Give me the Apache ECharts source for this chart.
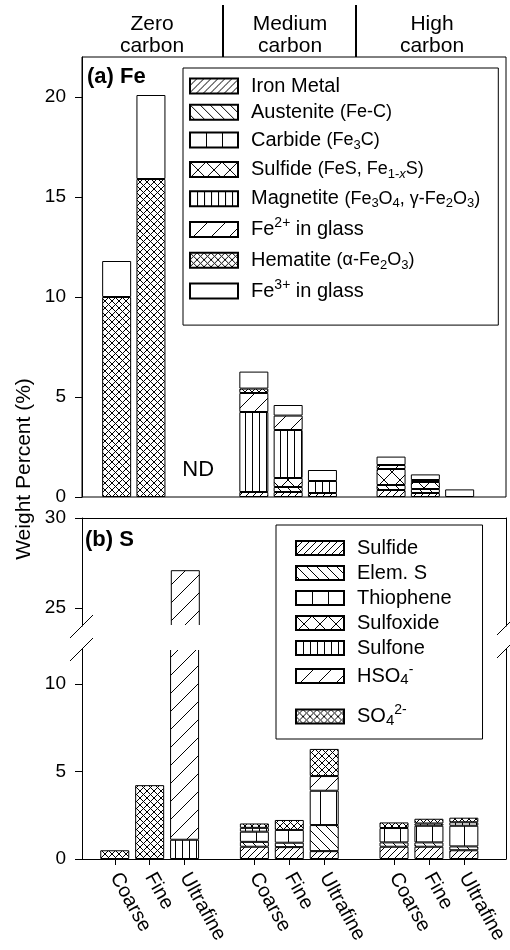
<!DOCTYPE html>
<html><head><meta charset="utf-8">
<script src="https://cdn.jsdelivr.net/npm/echarts@6/dist/echarts.min.js"></script>
<style>html,body{margin:0;padding:0;background:#fff}#c{width:510px;height:950px}</style>
</head><body><div id="c"></div>
<script>
// ---------- DATA ----------
const groups = ['Zero carbon', 'Medium carbon', 'High carbon'];
const sizes = ['Coarse', 'Fine', 'Ultrafine'];
// order of each array: Zero C,F,U | Medium C,F,U | High C,F,U   (null = ND)
// (a) Fe, weight percent
const feIronMetal = [0, 0, null, 0.25, 0.25, 0.20, 0.35, 0.20, 0];
const feAustenite = [0, 0, null, 0, 0.25, 0, 0.25, 0.20, 0];
const feCarbide   = [0, 0, null, 0, 0, 0, 0, 0, 0];
const feSulfide   = [0, 0, null, 0, 0.45, 0, 0.80, 0.35, 0];
const feMagnetite = [0, 0, null, 4.00, 2.40, 0.60, 0, 0, 0];
const feFe2Glass  = [0, 0, null, 0.95, 0.72, 0, 0.20, 0.10, 0];
const feHematite  = [10.0, 15.9, null, 0.22, 0, 0, 0, 0, 0];
const feFe3Glass  = [1.8, 4.2, null, 0.85, 0.53, 0.55, 0.42, 0.28, 0.38];
// (b) S, weight percent
const sSulfide   = [0, 0, 0, 0.70, 0.68, 0.45, 0.70, 0.70, 0.50];
const sElemS     = [0, 0, 0, 0.28, 0.25, 1.49, 0.25, 0.25, 0.22];
const sThiophene = [0, 0, 0, 0.58, 0.73, 1.96, 0.82, 0.95, 1.18];
const sSulfoxide = [0, 0, 0, 0, 0, 0, 0, 0, 0];
const sSulfone   = [0, 0, 1.10, 0.22, 0, 0, 0, 0.13, 0.20];
const sHSO4      = [0, 0, 26.0, 0, 0, 0.84, 0, 0, 0];
const sSO4       = [0.50, 4.22, 0, 0.25, 0.57, 1.55, 0.32, 0.27, 0.26];
// tick labels
const feTicks = [0, 5, 10, 15, 20];
const sTicksUpper = [25, 30];
const sTicksLower = [0, 5, 10];

// ---------- STYLE / LAYOUT ----------
const FONT = '"Liberation Sans", Arial, Helvetica, sans-serif';
const L = 82, W = 424;
const gA = {top: 57, height: 440}, gBU = {top: 518, height: 108}, gBL = {top: 649, height: 210};
const dA = {left: 99.5, width: 377.3}, dB = {left: 97.3, width: 387.2};
const BW = 29;

function pat(kind, s) {
  const c = document.createElement('canvas'); c.width = s; c.height = s;
  const g = c.getContext('2d');
  g.fillStyle = '#fff'; g.fillRect(0, 0, s, s);
  g.strokeStyle = '#000'; g.lineWidth = 1; g.beginPath();
  if (kind === 'fwd' || kind === 'x') for (const k of [0, s, 2 * s]) { g.moveTo(k + 1, -1); g.lineTo(-1, k + 1); }
  if (kind === 'back' || kind === 'x') for (const k of [-s, 0, s]) { g.moveTo(k - 1, -1); g.lineTo(k + s + 1, s + 1); }
  if (kind === 'vert') { g.moveTo(0.5, 0); g.lineTo(0.5, s); }
  g.stroke();
  return {image: c, repeat: 'repeat'};
}
const P = {
  dFwd: pat('fwd', 7), back: pat('back', 10), wVert: pat('vert', 16), bigX: pat('x', 16),
  dVert: pat('vert', 7), wFwd: pat('fwd', 18), dX: pat('x', 7), white: '#ffffff'
};

// categories with a spacer slot between carbon groups
const cats = [];
groups.forEach((g, gi) => { if (gi > 0) cats.push(''); sizes.forEach(s => cats.push(s)); });
function slots(arr) {
  const out = [];
  arr.forEach((v, i) => { if (i > 0 && i % 3 === 0) out.push('-'); out.push(v ? v : '-'); });
  return out;
}

const feComps = [
  ['Iron Metal', feIronMetal, P.dFwd], ['Austenite', feAustenite, P.back], ['Carbide', feCarbide, P.wVert],
  ['Fe sulfide', feSulfide, P.bigX], ['Magnetite', feMagnetite, P.dVert], ['Fe2+ glass', feFe2Glass, P.wFwd],
  ['Hematite', feHematite, P.dX], ['Fe3+ glass', feFe3Glass, P.white]
];
const sComps = [
  ['Sulfide', sSulfide, P.dFwd], ['Elem. S', sElemS, P.back], ['Thiophene', sThiophene, P.wVert],
  ['Sulfoxide', sSulfoxide, P.bigX], ['Sulfone', sSulfone, P.dVert], ['HSO4-', sHSO4, P.wFwd],
  ['SO4 2-', sSO4, P.dX]
];

const labels = {
  'Iron Metal': '{n|Iron Metal}',
  'Austenite': '{n|Austenite }{s|(Fe-C)}',
  'Carbide': '{n|Carbide }{s|(Fe}{ss|3}{s|C)}',
  'Fe sulfide': '{n|Sulfide }{s|(FeS, Fe}{ss|1-}{ssi|x}{s|S)}',
  'Magnetite': '{n|Magnetite }{s|(Fe}{ss|3}{s|O}{ss|4}{s|, γ-Fe}{ss|2}{s|O}{ss|3}{s|)}',
  'Fe2+ glass': '{n|Fe}{sup|2+}{n| in glass}',
  'Hematite': '{n|Hematite }{s|(α-Fe}{ss|2}{s|O}{ss|3}{s|)}',
  'Fe3+ glass': '{n|Fe}{sup|3+}{n| in glass}',
  'Sulfide': '{n|Sulfide}', 'Elem. S': '{n|Elem. S}', 'Thiophene': '{n|Thiophene}',
  'Sulfoxide': '{n|Sulfoxide}', 'Sulfone': '{n|Sulfone}',
  'HSO4-': '{n|HSO}{sub|4}{sup|-}',
  'SO4 2-': '{nb|SO}{sub|4}{sup|2-}'
};
const RICH = {
  n: {fontSize: 20, lineHeight: 22, fontFamily: FONT, color: '#000'},
  nb: {fontSize: 20, lineHeight: 22, padding: [12, 0, 13, 0], fontFamily: FONT, color: '#000'},
  s: {fontSize: 18, lineHeight: 22, fontFamily: FONT, color: '#000'},
  ss: {fontSize: 13, lineHeight: 12, padding: [10, 0, 0, 0], fontFamily: FONT, color: '#000'},
  ssi: {fontSize: 13, lineHeight: 12, padding: [10, 0, 0, 0], fontStyle: 'italic', fontFamily: FONT, color: '#000'},
  sub: {fontSize: 15, lineHeight: 14, padding: [8, 0, 0, 0], fontFamily: FONT, color: '#000'},
  sup: {fontSize: 14, lineHeight: 10, padding: [0, 0, 12, 0], fontFamily: FONT, color: '#000'}
};

const black = {show: true, lineStyle: {color: '#000', width: 1}};
function frameY(g, min, max, vals) {
  return {gridIndex: g, type: 'value', min, max, position: 'left', axisLine: black,
    axisTick: {show: true, length: 7, customValues: vals, lineStyle: {color: '#000'}},
    axisLabel: {customValues: vals, margin: 16, fontSize: 19, color: '#000', fontFamily: FONT},
    splitLine: {show: false}};
}
function lineOnly(g, min, max, pos) {
  return {gridIndex: g, type: 'value', min, max, position: pos, axisLine: black,
    axisTick: {show: false}, axisLabel: {show: false}, splitLine: {show: false}};
}
function barSeries(name, data, fill, xi, yi, stack) {
  return {type: 'bar', name, xAxisIndex: xi, yAxisIndex: yi, stack, barWidth: BW, data: slots(data),
    itemStyle: {color: fill, borderColor: '#000', borderWidth: 1}, emphasis: {disabled: true}, silent: true};
}

const series = [];
feComps.forEach(c => series.push(barSeries(c[0], c[1], c[2], 1, 1, 'fe')));
sComps.forEach(c => series.push(barSeries(c[0], c[1], c[2], 3, 4, 'su')));
sComps.forEach(c => series.push(barSeries(c[0], c[1], c[2], 5, 7, 'sl')));

const legendCommon = {orient: 'vertical', icon: 'rect', itemWidth: 48, borderColor: '#000', borderWidth: 1,
  selectedMode: false, formatter: n => labels[n],
  textStyle: {color: '#000', fontFamily: FONT, fontSize: 20, padding: [0, 0, 0, 8], rich: RICH}};

const chart = echarts.init(document.getElementById('c'), null, {renderer: 'canvas'});
chart.setOption({
  animation: false,
  backgroundColor: '#fff',
  grid: [
    {left: L, width: W, top: gA.top, height: gA.height, show: true, borderColor: '#000', borderWidth: 1},
    {left: dA.left, width: dA.width, top: gA.top, height: gA.height},
    {left: L, width: W, top: gBU.top, height: gBU.height},
    {left: dB.left, width: dB.width, top: gBU.top, height: gBU.height},
    {left: L, width: W, top: gBL.top, height: gBL.height},
    {left: dB.left, width: dB.width, top: gBL.top, height: gBL.height}
  ],
  xAxis: [
    {gridIndex: 0, type: 'value', min: 0, max: 1, show: false},
    {gridIndex: 1, type: 'category', data: cats, show: false},
    lineOnly(2, 0, 1, 'top'),
    {gridIndex: 3, type: 'category', data: cats, show: false},
    lineOnly(4, 0, 1, 'bottom'),
    {gridIndex: 5, type: 'category', data: cats, position: 'bottom', axisLine: {show: false},
      axisTick: {show: true, alignWithLabel: true, length: 6, interval: (i, v) => v !== '', lineStyle: {color: '#000'}},
      axisLabel: {interval: 0, rotate: -61, margin: 15, fontSize: 20, color: '#000', fontFamily: FONT},
      splitLine: {show: false}}
  ],
  yAxis: [
    frameY(0, 0, 22, feTicks),
    {gridIndex: 1, type: 'value', min: 0, max: 22, show: false},
    frameY(2, 24, 30, sTicksUpper),
    lineOnly(2, 24, 30, 'right'),
    {gridIndex: 3, type: 'value', min: 24, max: 30, show: false},
    frameY(4, 0, 12, sTicksLower),
    lineOnly(4, 0, 12, 'right'),
    {gridIndex: 5, type: 'value', min: 0, max: 12, show: false}
  ],
  legend: [
    Object.assign({}, legendCommon, {data: feComps.map(c => c[0]), left: 183, top: 68,
      padding: [8, 18, 21, 6], itemGap: 6.3, itemHeight: 15}),
    Object.assign({}, legendCommon, {data: sComps.map(c => c[0]), left: 276, top: 525,
      padding: [13, 31, 0, 19], itemGap: 5, itemHeight: 14})
  ],
  series
});

// ---------- decorations ----------
const ndPt = chart.convertToPixel({xAxisIndex: 1, yAxisIndex: 1}, [2, 0]);
const brkPt = chart.convertToPixel({xAxisIndex: 5, yAxisIndex: 7}, [2, 0]);
const txt = (x, y, text, size, extra) => Object.assign({type: 'text', x, y, z: 60,
  style: {text, fill: '#000', font: (extra && extra.bold ? 'bold ' : '') + size + 'px ' + FONT,
    textAlign: (extra && extra.align) || 'center', textVerticalAlign: 'middle'}},
  extra && extra.rotation ? {rotation: extra.rotation} : {});
const ln = (x1, y1, x2, y2, w) => ({type: 'line', z: 61, shape: {x1, y1, x2, y2},
  style: {stroke: '#000', lineWidth: w || 1}});
const brkTop = gBU.top + gBU.height, brkBot = gBL.top, R = L + W;
const els = [
  txt(152, 24, 'Zero', 21), txt(152, 46, 'carbon', 21),
  txt(290, 24, 'Medium', 21), txt(290, 46, 'carbon', 21),
  txt(432, 24, 'High', 21), txt(432, 46, 'carbon', 21),
  ln(223, 5, 223, gA.top, 2), ln(356, 5, 356, gA.top, 2),
  txt(24, 469, 'Weight Percent (%)', 21, {rotation: Math.PI / 2}),
  txt(87, 77, '(a) Fe', 22, {bold: true, align: 'left'}),
  txt(85, 540, '(b) S', 22, {bold: true, align: 'left'}),
  txt(ndPt[0] + 13, ndPt[1] - 27, 'ND', 22),
  {type: 'rect', z: 55, shape: {x: brkPt[0] - BW / 2 - 2, y: brkTop - 1, width: BW + 4, height: brkBot - brkTop + 2},
    style: {fill: '#fff'}},
  ln(L - 12, brkTop + 12, L + 11, brkTop - 11), ln(L - 12, brkBot + 12, L + 11, brkBot - 11),
  ln(R - 9, brkTop + 9, R + 8, brkTop - 8), ln(R - 9, brkBot + 9, R + 8, brkBot - 8)
];
chart.setOption({graphic: {elements: els}});
</script></body></html>
